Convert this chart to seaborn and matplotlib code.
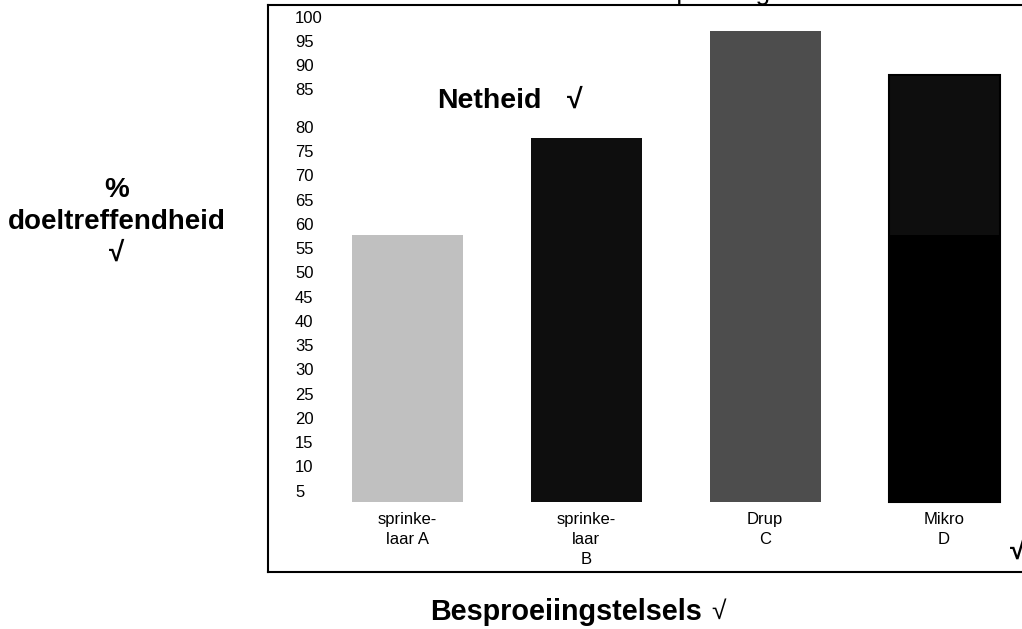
import matplotlib
matplotlib.use('Agg')
import matplotlib.pyplot as plt
import matplotlib.transforms as mtrans
import seaborn as sns
import pandas as pd

# ---- data ----
categories = ['sprinke-\nlaar A', 'sprinke-\nlaar\nB', 'Drup\nC', 'Mikro\nD']
doeltreffendheid = [55, 75, 97, 88]
mikro_onderste_deel = [55]
tick_values = [5, 10, 15, 20, 25, 30, 35, 40, 45, 50, 55, 60, 65, 70, 75, 80, 85, 90, 95, 100]
bar_colours = ['#c0c0c0', '#0e0e0e', '#4d4d4d', '#0e0e0e']

sns.set_theme(style='white')
plt.rcParams['font.family'] = ['Liberation Sans', 'DejaVu Sans']
plt.rcParams['text.color'] = 'black'

W, H = 1022, 629
fig = plt.figure(figsize=(W / 100, H / 100), dpi=100)
ax = fig.add_axes([268 / W, (H - 572) / H, (1040 - 268) / W, (572 - 5) / H])

df = pd.DataFrame({'stelsel': categories, 'waarde': doeltreffendheid})
sns.barplot(data=df, x='stelsel', y='waarde', hue='stelsel', palette=bar_colours,
            legend=False, width=0.62, saturation=1, linewidth=0, ax=ax)
ax.patches[3].set_edgecolor('black')
ax.patches[3].set_linewidth(1.5)
sns.barplot(x=[categories[3]], y=mikro_onderste_deel, order=categories, color='black',
            width=0.62, saturation=1, linewidth=0, ax=ax)

ax.set_xlim(-0.777, 3.536)
ax.set_ylim(-14.42, 102.4)
ax.set_xlabel('')
ax.set_ylabel('')
for s in ax.spines.values():
    s.set_color('black')
    s.set_linewidth(1.5)

ax.set_yticks(tick_values)
ax.set_yticklabels([str(v) for v in tick_values], ha='left')
ax.tick_params(axis='y', length=0, pad=-19.4, labelsize=12, labelcolor='black')
ax.tick_params(axis='x', length=0, pad=-43.5, labelsize=12, labelcolor='black')
for lbl in ax.get_xticklabels():
    lbl.set_multialignment('center')
    lbl.set_linespacing(1.42)
for lbl, v in zip(ax.get_yticklabels(), tick_values):
    if v <= 80:
        lbl.set_transform(lbl.get_transform() +
                          mtrans.ScaledTranslation(0, -0.13, fig.dpi_scale_trans))

# titles / labels
fig.text(745 / W, 1.0, 'Besproeiingstelsels', ha='center', va='baseline', fontsize=19)
fig.text(437 / W, 1 - 101 / H, 'Netheid', ha='left', va='center',
         fontsize=20.5, fontweight='bold')
fig.text(575 / W, 1 - 101 / H, '√', ha='center', va='center',
         fontsize=20.5, fontweight='bold')
fig.text(117 / W, 1 - 222 / H, '%\ndoeltreffendheid\n√', ha='center', va='center',
         multialignment='center', fontsize=20, fontweight='bold', linespacing=1.3)
fig.text(702 / W, 1 - 612 / H, 'Besproeiingstelsels', ha='right', va='center',
         fontsize=20.7, fontweight='bold')
fig.text(711 / W, 1 - 612 / H, '√', ha='left', va='center', fontsize=19)
fig.text(1018 / W, 1 - 552 / H, '√', ha='center', va='center', fontsize=20, fontweight='bold')

fig.savefig('out.png', dpi=100)
